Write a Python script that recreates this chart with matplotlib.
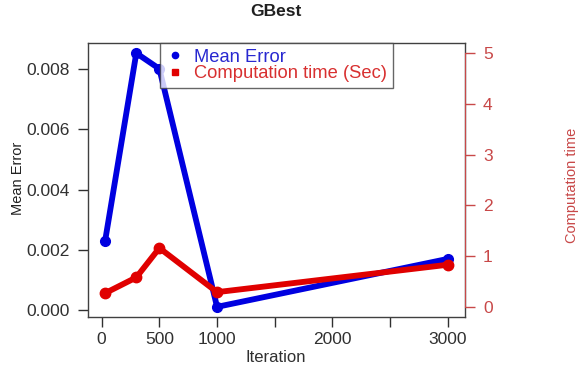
import matplotlib
matplotlib.use("Agg")
import matplotlib.pyplot as plt
from matplotlib.lines import Line2D

iterations = [30, 300, 500, 1000, 3000]
mean_error = [0.0023, 0.00852, 0.0080, 0.00011, 0.0017]
comp_time = [0.27, 0.58, 1.16, 0.29, 0.83]
x_ticks = [0, 500, 1000, 1500, 2000, 2500, 3000]
x_ticklabels = ["0", "500", "1000", "", "2000", "", "3000"]
left_ticks = [0.000, 0.002, 0.004, 0.006, 0.008]
right_ticks = [0, 1, 2, 3, 4, 5]

BLUE = "#0000e0"
RED = "#e00000"
AXRED = "#c84848"
TXT = "#303030"

plt.rcParams['font.family'] = ['Liberation Sans', 'DejaVu Sans']

fig = plt.figure(figsize=(5.78, 3.71), dpi=100)
ax = fig.add_axes([88/578, 1-317/371, (465-88)/578, (317-43)/371])

ax.plot(iterations, mean_error, color=BLUE, lw=4.2, marker='o', ms=7, mec=BLUE, mfc=BLUE, solid_capstyle='butt')
ax.margins(x=0.04, y=0.04)
ax.set_xticks(x_ticks)
ax.set_xticklabels(x_ticklabels)
ax.set_yticks(left_ticks)
ax.set_yticklabels([f"{v:.3f}" for v in left_ticks])
ax.tick_params(axis='both', direction='out', length=7, width=1, colors=TXT, labelsize=12.5, pad=6)
ax.tick_params(axis='x', pad=4)
for s in ax.spines.values():
    s.set_color("#404040")
    s.set_linewidth(1)

ax2 = ax.twinx()
ax2.plot(iterations, comp_time, color=RED, lw=4.2, marker='o', ms=7.5, mec=RED, mfc=RED, solid_capstyle='butt')
ax2.set_ylim(-0.2, 5.2)
ax2.set_yticks(right_ticks)
ax2.tick_params(axis='y', direction='out', length=7, width=1, colors=AXRED, labelsize=12.5, pad=6)
for k in ['left', 'top', 'bottom']:
    ax2.spines[k].set_visible(False)
ax2.spines['right'].set_color(AXRED)
ax2.spines['right'].set_bounds(0, 5)

handles = [
    Line2D([], [], ls='none', marker='o', color=BLUE, ms=4.5),
    Line2D([], [], ls='none', marker='s', color=RED, ms=4.5),
]
leg = ax2.legend(handles, ["Mean Error", "Computation time (Sec)"], loc='upper center',
                 bbox_to_anchor=(0.5, 1.0), borderaxespad=0, frameon=True, fancybox=False,
                 fontsize=13.2, handlelength=1.0, handletextpad=0.55, labelspacing=0.0,
                 borderpad=0.3)
leg.get_frame().set_edgecolor("#404040")
leg.get_frame().set_linewidth(1)
for t, c in zip(leg.get_texts(), ["#2828d0", "#d83030"]):
    t.set_color(c)

fig.text(276/578, 1-12/371, "GBest", ha='center', va='center', fontsize=12.5, fontweight='bold', color='#202020')
fig.text(276/578, 1-358/371, "Iteration", ha='center', va='center', fontsize=12, color=TXT)
fig.text(18/578, 1-178/371, "Mean Error", ha='center', va='center', rotation=90, fontsize=10.5, color='#202020')
fig.text(572/578, 1-185/371, "Computation time", ha='center', va='center', rotation=90, fontsize=10.5, color=AXRED)

fig.savefig("out.png", dpi=100)
